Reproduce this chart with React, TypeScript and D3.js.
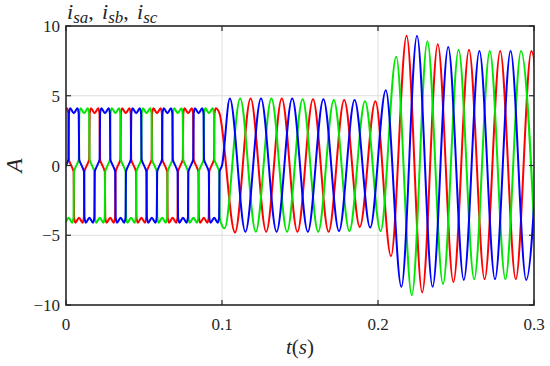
import React from "react";
import * as d3 from "d3";

const W = 550;
const H = 366;
const margin = { top: 26, right: 16, bottom: 61, left: 66 };

const xTicks = [0, 0.1, 0.2, 0.3];
const xTickLabels = ["0", "0.1", "0.2", "0.3"];
const yTicks = [-10, -5, 0, 5, 10];
const yTickLabels = ["\u221210", "\u22125", "0", "5", "10"];

const FREQ = 50; // Hz
const T_SWITCH = 0.1; // end of the clipped (six-step) interval

// one period of the clipped current: angle (deg) -> amplitude
const stepAngles = [0, 28, 33, 48, 90, 132, 147, 152, 180, 208, 213, 228, 270, 312, 327, 332];
const stepValues = [0, 0.45, 3.7, 4.1, 3.75, 4.1, 3.7, 0.45, 0, -0.45, -3.7, -4.1, -3.75, -4.1, -3.7, -0.45];

// half-cycle extrema after t = 0.1 s, one every 0.01 s
const redExtrema = [-4.8, 4.8, -4.75, 4.8, -4.75, 4.75, -4.75, 4.7, -4.4, 4.6, -6.5, 9.3, -9.1, 8.7, -8.35, 8.3, -8.15, 8.2, -8.15, 8.2, -8.2];
const blueExtrema = [4.8, -4.75, 4.8, -4.75, 4.8, -4.75, 4.75, -4.7, 4.7, -4.45, 5.4, -8.7, 9.3, -8.7, 8.5, -8.2, 8.2, -8.15, 8.2, -8.2, 8.2];
const greenExtrema = [-4.5, 4.8, -4.75, 4.8, -4.75, 4.75, -4.75, 4.7, -4.7, 4.6, -4.7, 7.8, -9.3, 8.9, -8.5, 8.3, -8.15, 8.2, -8.15, 8.2, -8.2];

const phases = [
  { name: "a", color: "#ff0000", shift: 120, extrema: redExtrema },
  { name: "c", color: "#00e600", shift: -120, extrema: greenExtrema },
  { name: "b", color: "#0000ff", shift: 0, extrema: blueExtrema },
];

type Pt = [number, number];

function buildPoints(shift: number, extrema: number[]): Pt[] {
  const period = 1 / FREQ;
  const pts: Pt[] = [];
  for (let k = -1; k <= 6; k++) {
    stepAngles.forEach((a, i) => {
      const t = ((a - shift + 360 * k) / 360) * period;
      if (t >= -0.006 && t <= T_SWITCH + 1e-9) pts.push([t, stepValues[i]]);
    });
  }
  pts.sort((p, q) => p[0] - q[0]);
  // first extremum after the switch instant
  let first = ((90 - shift) / 360) * period;
  while (first <= T_SWITCH + 1e-9) first += period / 2;
  while (first - period / 2 > T_SWITCH + 1e-9) first -= period / 2;
  extrema.forEach((v, i) => pts.push([first + (i * period) / 2, v]));
  return pts;
}

const FONT = "Liberation Serif, Times New Roman, Tinos, Times, serif";

export default function App() {
  const x = d3.scaleLinear().domain([0, 0.3]).range([margin.left, W - margin.right]);
  const y = d3.scaleLinear().domain([-10, 10]).range([H - margin.bottom, margin.top]);

  const line = d3
    .line<Pt>()
    .x((d) => x(d[0]))
    .y((d) => y(d[1]))
    .curve(d3.curveMonotoneX);

  const x0 = x(0), x1 = x(0.3), y0 = y(-10), y1 = y(10);
  const tickLen = 5;

  return (
    <svg width={W} height={H} fontFamily={FONT} style={{ position: "absolute", left: 0, top: 0 }}>
      <style>{`text, tspan { font-family: "Liberation Serif", "Times New Roman", serif; }`}</style>
      <rect width={W} height={H} fill="#fff" />
      <defs>
        <clipPath id="plot-clip">
          <rect x={x0} y={y1} width={x1 - x0} height={y0 - y1} />
        </clipPath>
      </defs>

      {/* grid */}
      <g stroke="#dedede" strokeWidth={1}>
        {xTicks.slice(1, -1).map((t) => (
          <line key={"gx" + t} x1={x(t)} x2={x(t)} y1={y1} y2={y0} />
        ))}
        {yTicks.slice(1, -1).map((t) => (
          <line key={"gy" + t} x1={x0} x2={x1} y1={y(t)} y2={y(t)} />
        ))}
      </g>

      {/* currents */}
      <g clipPath="url(#plot-clip)" fill="none" strokeWidth={2} strokeLinejoin="round">
        {phases.map((p) => (
          <path key={p.name} d={line(buildPoints(p.shift, p.extrema)) || ""} stroke={p.color} />
        ))}
      </g>

      {/* box and ticks */}
      <rect x={x0} y={y1} width={x1 - x0} height={y0 - y1} fill="none" stroke="#262626" strokeWidth={1.6} />
      <g stroke="#262626" strokeWidth={1.2}>
        {xTicks.map((t) => (
          <g key={"tx" + t}>
            <line x1={x(t)} x2={x(t)} y1={y0} y2={y0 - tickLen} />
            <line x1={x(t)} x2={x(t)} y1={y1} y2={y1 + tickLen} />
          </g>
        ))}
        {yTicks.map((t) => (
          <g key={"ty" + t}>
            <line x1={x0} x2={x0 + tickLen} y1={y(t)} y2={y(t)} />
            <line x1={x1} x2={x1 - tickLen} y1={y(t)} y2={y(t)} />
          </g>
        ))}
      </g>

      {/* tick labels */}
      {xTicks.map((t, i) => (
        <text key={"lx" + t} x={x(t)} y={y0 + 25} textAnchor="middle" fill="#262626" fontFamily={FONT} fontSize={17}>
          {xTickLabels[i]}
        </text>
      ))}
      {yTicks.map((t, i) => (
        <text key={"ly" + t} x={x0 - 6} y={y(t) + 6} textAnchor="end" fill="#262626" fontFamily={FONT} fontSize={17}>
          {yTickLabels[i]}
        </text>
      ))}

      {/* axis labels */}
      <text x={(x0 + x1) / 2} y={354} textAnchor="middle" fill="#262626" fontFamily={FONT} fontSize={21}>
        <tspan fontStyle="italic">t</tspan>(<tspan fontStyle="italic">s</tspan>)
      </text>
      <text transform={`translate(22,${y(0)}) rotate(-90)`} textAnchor="middle" fill="#262626" fontFamily={FONT} fontSize={23} fontStyle="italic">
        A
      </text>

      {/* title */}
      {["sa", "sb", "sc"].map((s, i) => (
        <text key={s} x={67 + i * 35} y={19} fill="#262626" fontFamily={FONT} fontSize={22}>
          <tspan fontStyle="italic">i</tspan>
          <tspan fontStyle="italic" fontSize={17} dy={4}>{s}</tspan>
          {i < 2 && <tspan dy={-4}>,</tspan>}
        </text>
      ))}
    </svg>
  );
}
